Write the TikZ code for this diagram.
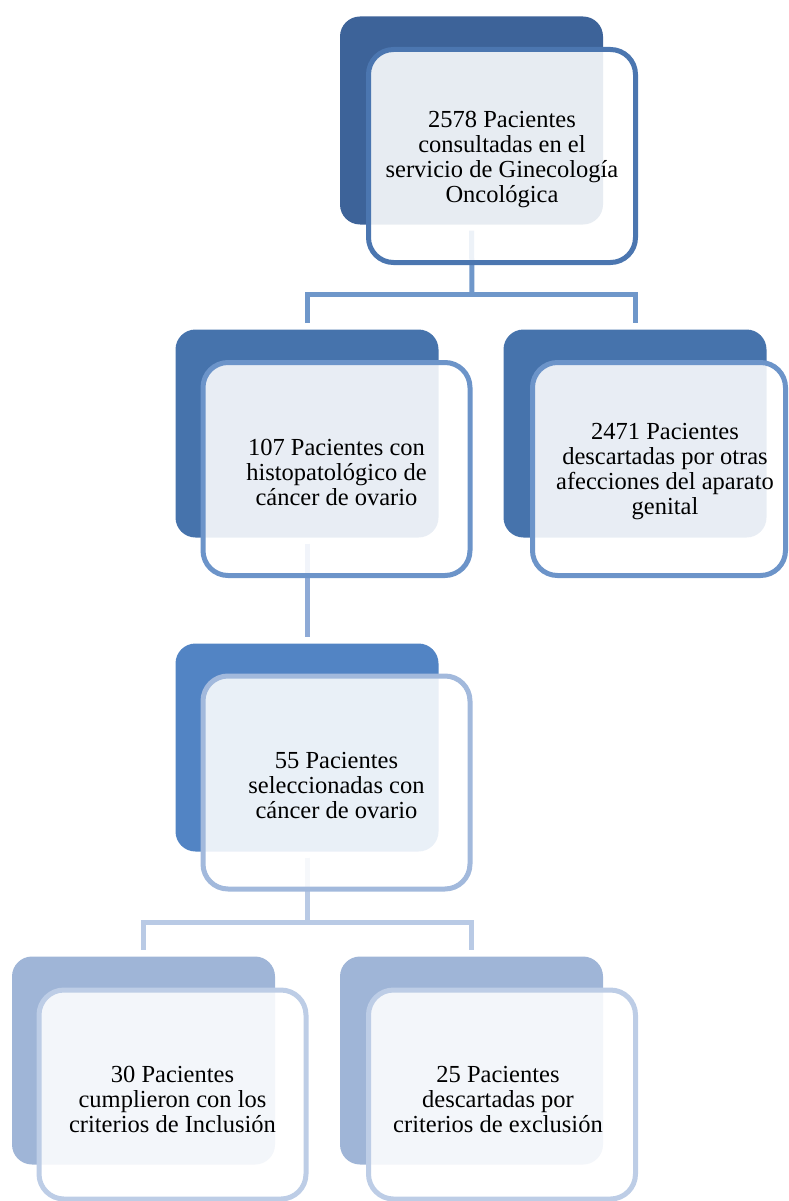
\documentclass[tikz,border=0pt]{standalone}
\usepackage{fontspec}
\setmainfont{Liberation Serif}
\usetikzlibrary{calc}
\definecolor{back0}{HTML}{3D6399}
\definecolor{back1}{HTML}{4673AC}
\definecolor{back2}{HTML}{5284C4}
\definecolor{back3}{HTML}{9FB5D7}
\definecolor{edge0}{HTML}{4B76B0}
\definecolor{edge1}{HTML}{6C94C9}
\definecolor{edge2}{HTML}{A2B9DC}
\definecolor{edge3}{HTML}{BDCDE6}
\definecolor{link1}{HTML}{6F97CA}
\definecolor{link2}{HTML}{8EAAD6}
\definecolor{link3}{HTML}{B9CAE5}
\tikzset{
  backbox/.style={rectangle, rounded corners=20pt, minimum width=263pt, minimum height=208pt, inner sep=0pt, draw=none, fill=#1},
  frontbox/.style={rectangle, rounded corners=25pt, minimum width=267pt, minimum height=213pt, inner sep=0pt, line width=5pt, draw=#1, fill=white, fill opacity=0.88},
  label/.style={align=center, font=\fontsize{24.5}{25}\selectfont, text=black, inner sep=0pt, yshift=-3pt},
  link/.style={line width=5pt, draw=#1, shorten <=6pt, shorten >=6pt},
  linkfree/.style={line width=5pt, draw=#1}
}
\begin{document}
\begin{tikzpicture}[x=1pt,y=-1pt]
\useasboundingbox (0,0) rectangle (789,1201);
% back boxes
\node[backbox=back0] (b0) at (471.5,120.5) {};
\node[backbox=back1] (b1l) at (307,433.5) {};
\node[backbox=back1] (b1r) at (635,433.5) {};
\node[backbox=back2] (b2) at (307,747.5) {};
\node[backbox=back3] (b3l) at (143.5,1060.5) {};
\node[backbox=back3] (b3r) at (471.5,1060.5) {};
% connectors
\coordinate (j0) at (472,294);
\coordinate (j2) at (307,922);
\draw[linkfree=link1, shorten <=6pt] (b0.south) -- (j0);
\draw[link=link1, shorten <=0pt] (j0) -| (b1l.north);
\draw[link=link1, shorten <=0pt] (j0) -| (b1r.north);
\draw[link=link2] (b1l.south) -- (b2.north);
\draw[linkfree=link3, shorten <=6pt] (b2.south) -- (j2);
\draw[link=link3, shorten <=0pt] (j2) -| (b3l.north);
\draw[link=link3, shorten <=0pt] (j2) -| (b3r.north);
% front boxes
\node[frontbox=edge0] (f0) at (502,156) {};
\node[frontbox=edge1] (f1l) at (336.5,469) {};
\node[frontbox=edge1, minimum width=253pt] (f1r) at (659,469) {};
\node[frontbox=edge2] (f2) at (336.5,782.5) {};
\node[frontbox=edge3, minimum height=209pt] (f3l) at (172.5,1094.5) {};
\node[frontbox=edge3, minimum height=209pt] (f3r) at (502,1094.5) {};
% texts
\node[label] (t0) at (f0.center) {2578 Pacientes\\consultadas en el\\servicio de Ginecología\\Oncológica};
\node[label] (t1l) at (f1l.center) {107 Pacientes con\\histopatológico de\\cáncer de ovario};
\node[label, xshift=6pt] (t1r) at (f1r.center) {2471 Pacientes\\descartadas por otras\\afecciones del aparato\\genital};
\node[label] (t2) at (f2.center) {55 Pacientes\\seleccionadas con\\cáncer de ovario};
\node[label] (t3l) at ($(f3l.center)+(0,2)$) {30 Pacientes\\cumplieron con los\\criterios de Inclusión};
\node[label] (t3r) at ($(f3r.center)+(-4,2)$) {25 Pacientes\\descartadas por\\criterios de exclusión};
\end{tikzpicture}
\end{document}
